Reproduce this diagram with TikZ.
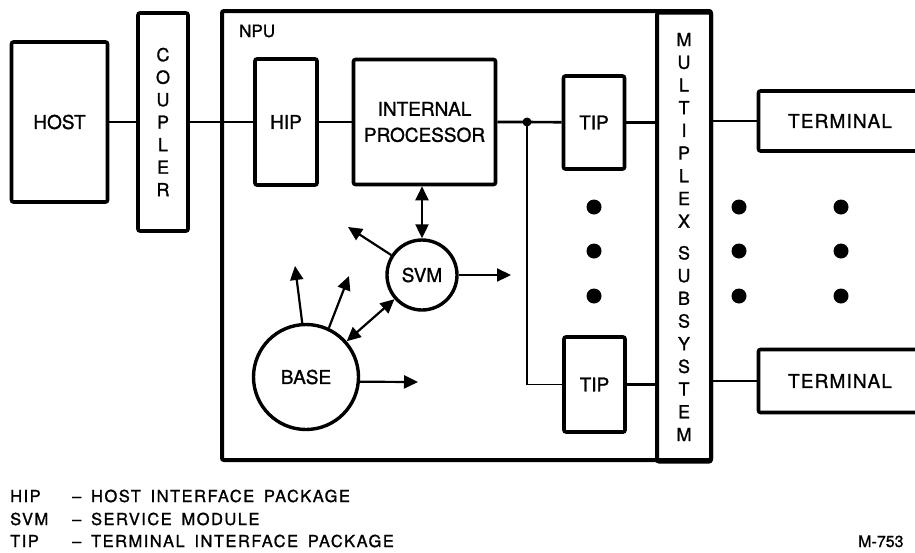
\documentclass[tikz,border=0pt]{standalone}
\usepackage{fontspec}
\setmainfont{TeX Gyre Heros}[FakeBold=1.2]
\newfontfamily\lblfont{TeX Gyre Heros}[FakeBold=1.2]
\newfontfamily\termfont{TeX Gyre Heros}[LetterSpace=6,FakeBold=1.2]
\newfontfamily\keyfont{TeX Gyre Heros}[LetterSpace=9,WordSpace=1.6,FakeBold=1.2]
\usetikzlibrary{arrows.meta, positioning}

\begin{document}
\begin{tikzpicture}[
		x=1pt, y=-1pt,
		% Define styles
		every node/.style={font=\lblfont\fontsize{19}{26}\selectfont},
		block/.style={rectangle, draw=black, line width=3.6pt, rounded corners=2pt, inner sep=0pt, align=center},
		frame/.style={rectangle, draw=black, line width=4pt, rounded corners=2pt, inner sep=0pt},
		circ/.style={circle, draw=black, line width=3.4pt, inner sep=0pt},
		link/.style={line width=2.6pt},
		thinlink/.style={line width=1.8pt},
		arrow/.style={line width=2.2pt, -{Triangle[length=14pt,width=13pt]}},
		dblarrow/.style={line width=2.2pt, {Triangle[length=14pt,width=13pt]}-{Triangle[length=14pt,width=13pt]}},
		legend/.style={font=\keyfont\fontsize{16.5}{20}\selectfont, anchor=base west, inner sep=0pt}
		]
		\useasboundingbox (0,0) rectangle (915,552);
		
		% NPU frame and multiplex subsystem
		\node (npu) [frame, minimum width=489pt, minimum height=449pt] at (466.5,235.5) {};
		\node (npulabel) [anchor=base west, inner sep=0pt, font=\lblfont\fontsize{17}{20}\selectfont] at (239,37) {NPU};
		\node (mux) [frame, minimum width=54pt, minimum height=449pt, align=center, font=\lblfont\fontsize{18}{22.7}\selectfont] at (684,237)
		{M\\U\\L\\T\\I\\P\\L\\E\\X\\[9pt]S\\U\\B\\S\\Y\\S\\T\\E\\M};
		
		% Host side
		\node (host) [block, minimum width=96pt, minimum height=160pt] at (59.5,122) {HOST};
		\node (coupler) [block, minimum width=50pt, minimum height=218pt, font=\lblfont\fontsize{18}{22.5}\selectfont] at (163,122)
		{C\\O\\U\\P\\L\\E\\R};
		
		% Inside the NPU
		\node (hip) [block, minimum width=62pt, minimum height=126pt] at (286,122) {HIP};
		\node (proc) [block, minimum width=142pt, minimum height=125pt] at (424.5,122) {INTERNAL\\PROCESSOR};
		\node (tipA) [block, minimum width=61pt, minimum height=93pt] at (594,122.5) {TIP};
		\node (tipB) [block, minimum width=61pt, minimum height=95pt] at (594.5,384.5) {TIP};
		\node (svm) [circ, minimum size=70pt] at (422,275) {SVM};
		\node (base) [circ, minimum size=105pt] at (306,377) {BASE};
		
		% Terminals
		\node (termA) [block, minimum width=163pt, minimum height=60pt, font=\termfont\fontsize{19}{22}\selectfont] at (840,121) {TERMINAL};
		\node (termB) [block, minimum width=163pt, minimum height=63pt, font=\termfont\fontsize{19}{22}\selectfont] at (840,381) {TERMINAL};
		
		% Free ends of the arrows
		\coordinate (junc) at (527,122);
		\coordinate (svmNW) at (348,227);
		\coordinate (svmE) at (511,275);
		\coordinate (baseN) at (295,266);
		\coordinate (baseNE) at (349,276);
		\coordinate (baseE) at (418,382);
		
		% Draw links
		\draw [link] (host) -- (coupler);
		\draw [link] (coupler) -- (hip);
		\draw [link] (hip) -- (proc);
		\draw [link] (proc) -- (junc) -- (tipA);
		\draw [thinlink] (junc) |- (tipB);
		\fill (junc) circle (4.5pt);
		\draw [link] (tipA) -- (tipA -| mux.west);
		\draw [link] (tipB.east) -- (tipB.east -| mux.west);
		\draw [link] (mux.east |- termA) -- (termA);
		\draw [link] (mux.east |- termB) -- (termB);
		
		% Draw arrows
		\draw [dblarrow] (svm.north |- proc.south) -- (svm.north);
		\draw [arrow] (svm) -- (svmNW);
		\draw [arrow] (svm.east) -- (svmE);
		\draw [dblarrow] (base) -- (svm);
		\draw [arrow] (base.94) -- (baseN);
		\draw [arrow] (base.65) -- (baseNE);
		\draw [arrow] (base.-5) -- (baseE);
		
		% Dots
		\foreach \x in {594,739,841}
		\foreach \y in {207,251,296}
		\fill (\x,\y) circle (7.5pt);
		
		% Legend
		\node (kHIP) [legend] at (10,502) {HIP};
		\node (kSVM) [legend] at (10,525) {SVM};
		\node (kTIP) [legend] at (10,547) {TIP};
		\node (dHIP) [legend] at (72,502) {–\ HOST INTERFACE PACKAGE};
		\node (dSVM) [legend] at (72,525) {–\ SERVICE MODULE};
		\node (dTIP) [legend] at (72,547) {–\ TERMINAL INTERFACE PACKAGE};
		\node (fig) [legend, font=\lblfont\fontsize{16}{20}\selectfont] at (858,547) {M-753};
		
	\end{tikzpicture}
\end{document}
